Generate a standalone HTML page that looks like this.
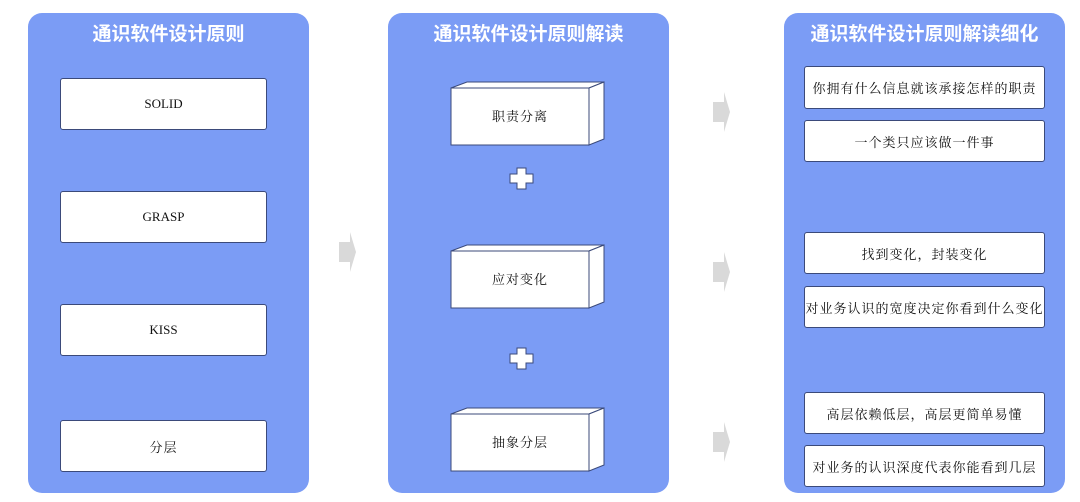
<!DOCTYPE html>
<html><head><meta charset="utf-8"><style>
body{margin:0;width:1080px;height:502px;background:#fff;position:relative;overflow:hidden;font-family:"Liberation Serif","Noto Serif CJK SC",serif}
.p{position:absolute;top:13px;height:480px;width:281px;background:#7b9cf5;border-radius:14px}
.t{position:absolute;top:6px;left:0;right:0;text-align:center;color:#fff;font:bold 19px "Liberation Sans","Noto Sans CJK SC",sans-serif}
.b{position:absolute;background:#fff;border:1px solid #3b4a7a;border-radius:3px;display:flex;align-items:center;justify-content:center;font-size:13px;color:#111;box-sizing:border-box;letter-spacing:1px}
svg{position:absolute;left:0;top:0}
</style></head><body>
<div class="p" style="left:28px"><div class="t">通识软件设计原则</div></div>
<div class="p" style="left:388px"><div class="t">通识软件设计原则解读</div></div>
<div class="p" style="left:784px"><div class="t">通识软件设计原则解读细化</div></div>

<div class="b" style="left:60px;top:78px;width:207px;height:52px;letter-spacing:0">SOLID</div>
<div class="b" style="left:60px;top:191px;width:207px;height:52px;letter-spacing:0">GRASP</div>
<div class="b" style="left:60px;top:304px;width:207px;height:52px;letter-spacing:0">KISS</div>
<div class="b" style="left:60px;top:420px;width:207px;height:52px">分层</div>

<div class="b" style="left:804px;top:66px;width:241px;height:43px">你拥有什么信息就该承接怎样的职责</div>
<div class="b" style="left:804px;top:120px;width:241px;height:42px">一个类只应该做一件事</div>
<div class="b" style="left:804px;top:232px;width:241px;height:42px">找到变化，封装变化</div>
<div class="b" style="left:804px;top:286px;width:241px;height:42px">对业务认识的宽度决定你看到什么变化</div>
<div class="b" style="left:804px;top:392px;width:241px;height:42px">高层依赖低层，高层更简单易懂</div>
<div class="b" style="left:804px;top:445px;width:241px;height:42px">对业务的认识深度代表你能看到几层</div>

<svg width="1080" height="502">
<g stroke="#3b4a7a" stroke-width="1" fill="#fff">
<g id="c"><polygon points="451,88 467,82 604,82 589,88"/><polygon points="589,88 604,82 604,139 589,145"/><rect x="451" y="88" width="138" height="57"/></g>
<use href="#c" y="163"/><use href="#c" y="326"/>
</g>
<g font-size="13" fill="#111" text-anchor="middle" letter-spacing="1" font-family="Liberation Serif,Noto Serif CJK SC,serif">
<text x="520" y="121">职责分离</text><text x="520" y="284">应对变化</text><text x="520" y="447">抽象分层</text>
</g>
<g fill="#fff" stroke="#3b4a7a" stroke-width="1">
<path d="M517,168h9v6h7v9h-7v6h-9v-6h-7v-9h7z"/>
<path d="M517,348h9v6h7v9h-7v6h-9v-6h-7v-9h7z"/>
</g>
<g fill="#d9d9d9">
<path id="a" d="M339,242h11v-10l6,20l-6,20v-10h-11z"/>
<use href="#a" x="374" y="-140"/><use href="#a" x="374" y="20"/><use href="#a" x="374" y="190"/>
</g>
</svg>
</body></html>
